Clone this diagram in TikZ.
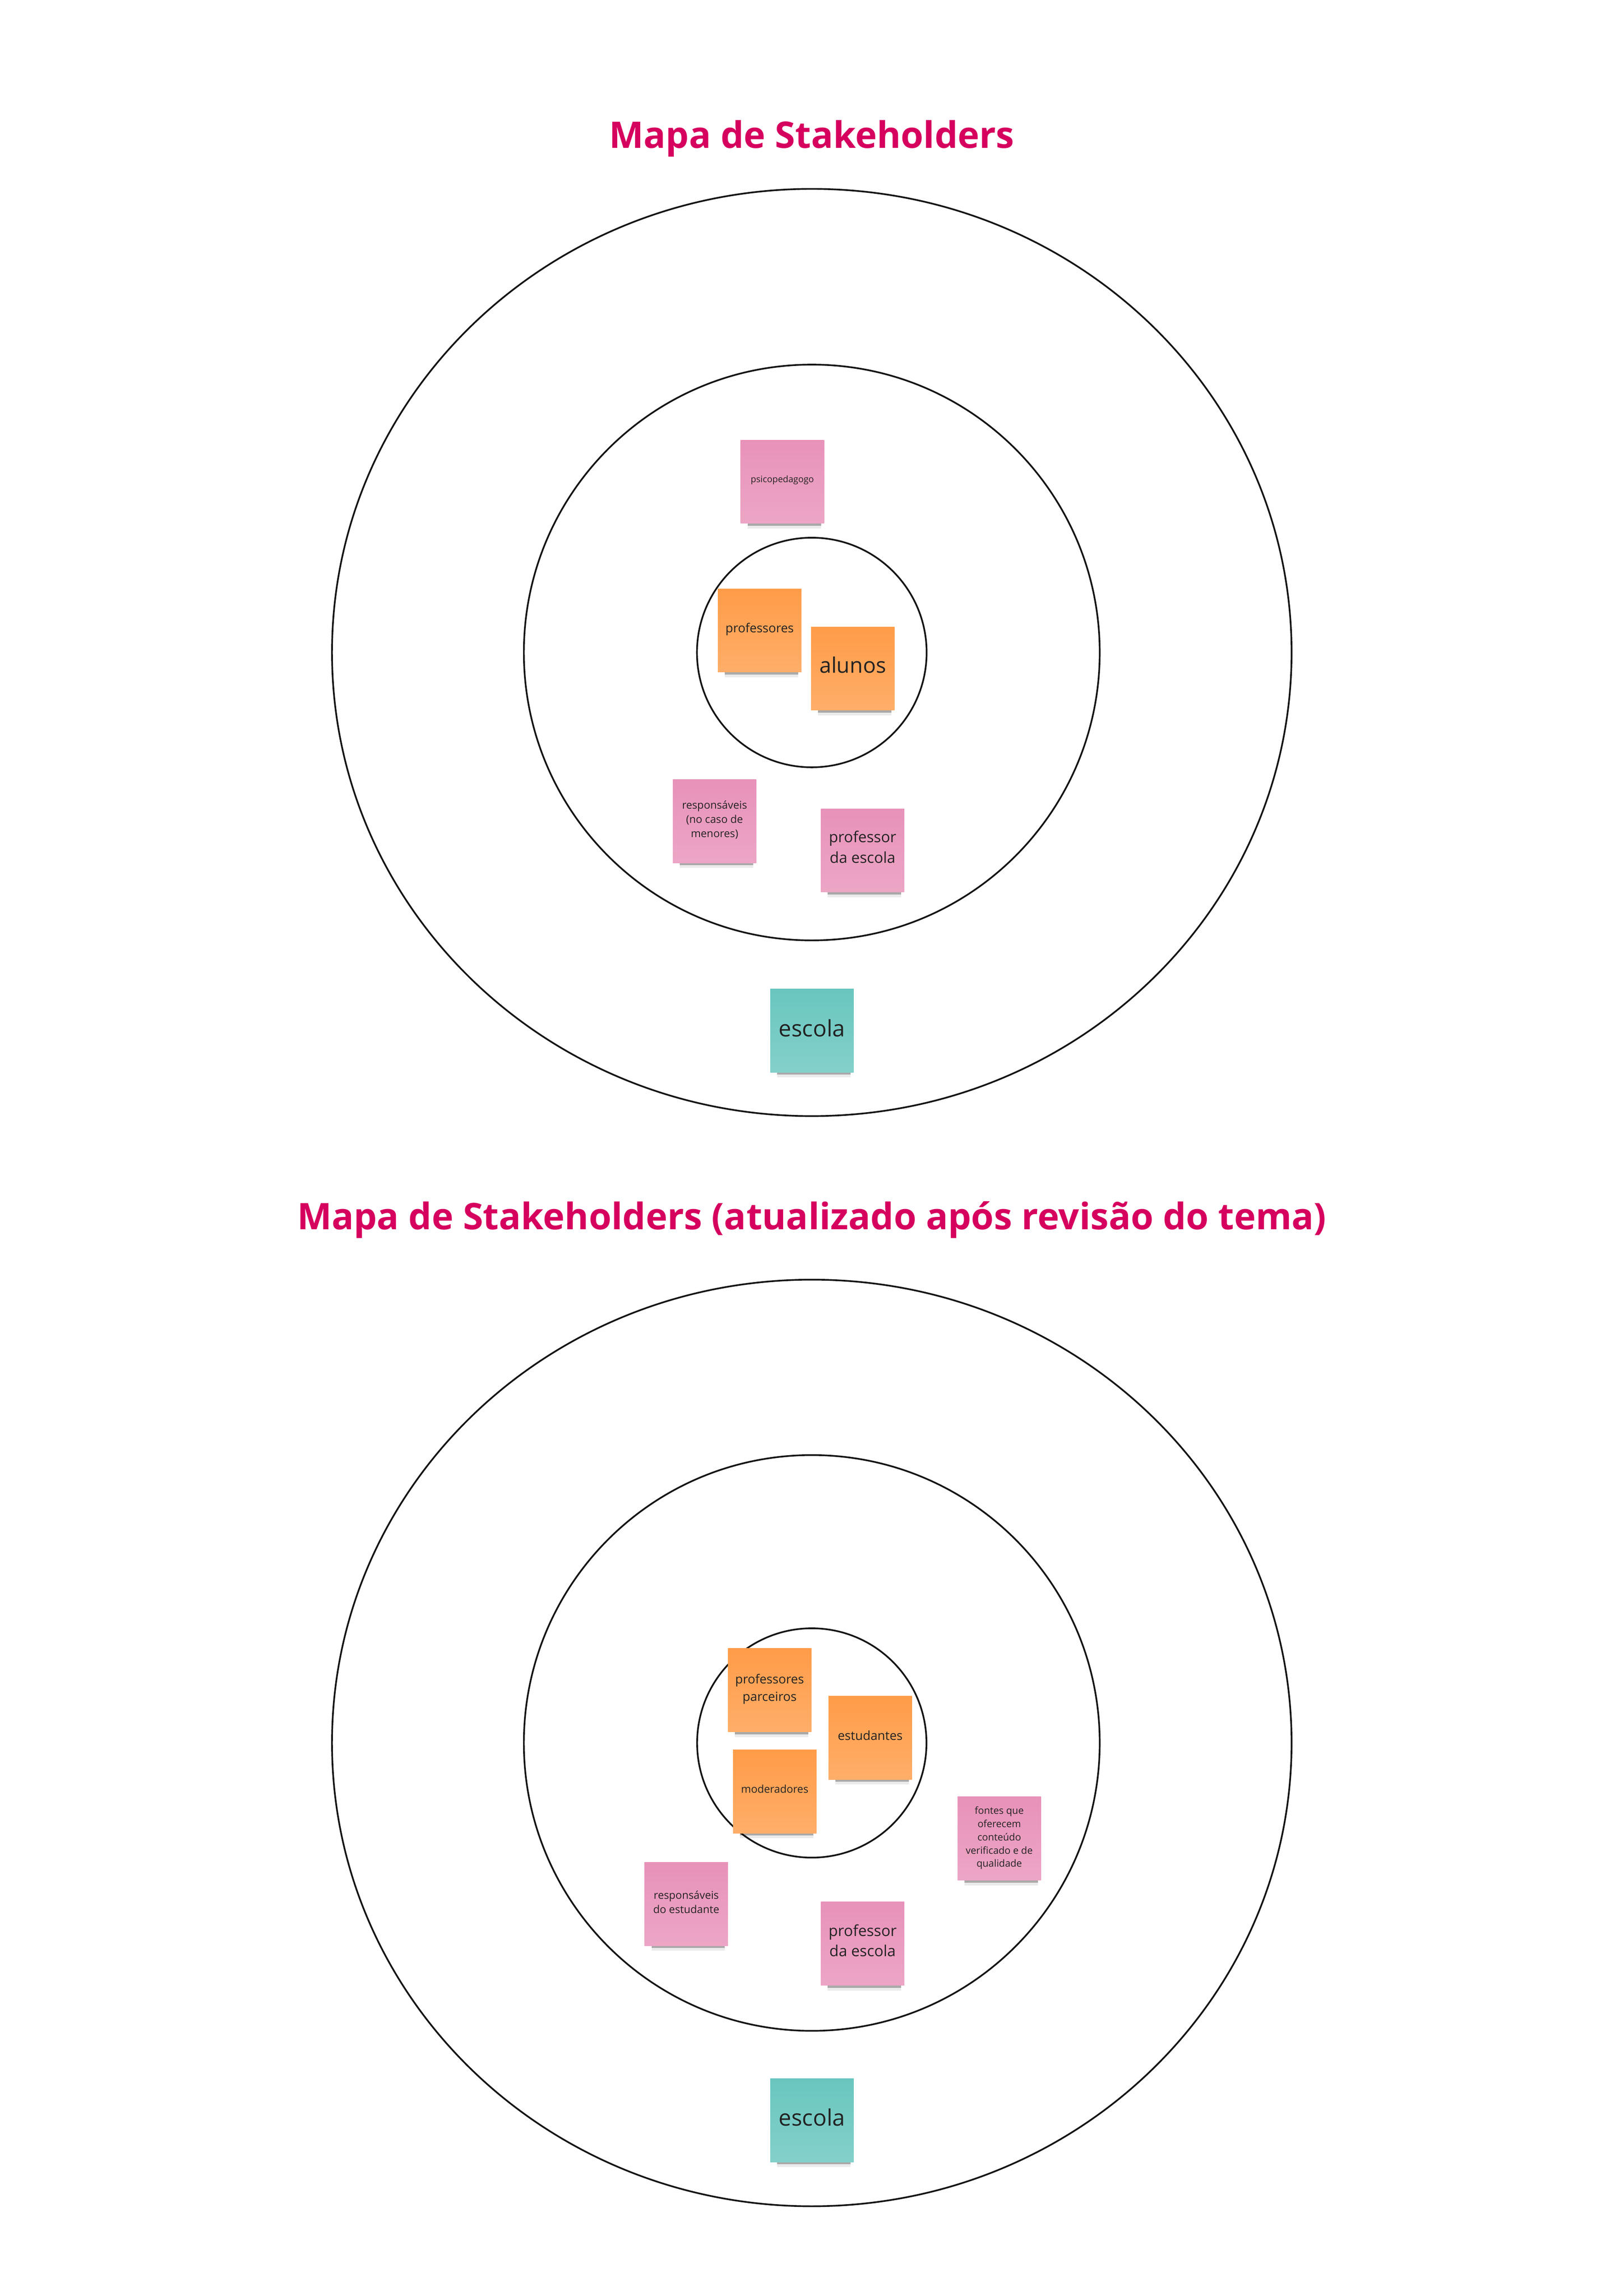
\documentclass[tikz,border=0pt]{standalone}
\usepackage{fontspec}
\setmainfont{Open Sans}
\usetikzlibrary{shadows}

\definecolor{titlered}{HTML}{D6005E}
\definecolor{stkorange}{HTML}{FF9C48}
\definecolor{stkpink}{HTML}{E892B9}
\definecolor{stkteal}{HTML}{69C6BF}
\definecolor{stktext}{HTML}{222222}

\tikzset{
    ring/.style={draw=black!92, line width=1.15pt},
    maptitle/.style={anchor=base, text=titlered, font=\bfseries\fontsize{25}{30}\selectfont},
    sticky/.style={minimum width=57pt, minimum height=57pt, inner sep=1pt,
        align=center, text=stktext,
        drop shadow={shadow xshift=1.5pt, shadow yshift=-7.8pt, shadow scale=0.88,
            opacity=0.08, fill=black},
        drop shadow={shadow xshift=1.5pt, shadow yshift=-5.6pt, shadow scale=0.88,
            opacity=0.28, fill=black}},
    orangenote/.style={sticky, top color=stkorange, bottom color=stkorange!82!white},
    pinknote/.style={sticky, top color=stkpink, bottom color=stkpink!82!white},
    tealnote/.style={sticky, top color=stkteal, bottom color=stkteal!82!white},
}

\begin{document}
\begin{tikzpicture}[x=1pt, y=-1pt]
    \useasboundingbox[fill=white] (0,0) rectangle (1108.6,1568);

    % primeiro mapa
    \node[maptitle] (title-one) at (554.3,101) {Mapa de Stakeholders};
    \draw[ring] (554.3,445.6) ellipse [x radius=327.6, y radius=316.6];
    \draw[ring] (554.3,445.6) circle [radius=196.6];
    \draw[ring] (554.3,445.6) circle [radius=78.4];

    \node[pinknote, text depth=3.5pt, font=\fontsize{6.1}{8}\selectfont] (psico) at (534.2,329) {psicopedagogo};
    \node[orangenote, text depth=3.7pt, font=\fontsize{8.5}{11}\selectfont] (profs) at (518.7,430.6) {professores};
    \node[orangenote, text depth=5pt, font=\fontsize{14.6}{18}\selectfont] (alunos) at (582.3,456.6) {alunos};
    \node[pinknote, text depth=3pt, font=\fontsize{7.3}{9.8}\selectfont] (resp-one) at (487.9,560.9) {responsáveis\\(no caso de\\menores)};
    \node[pinknote, text depth=4.9pt, font=\fontsize{10.3}{14.1}\selectfont] (prof-escola-one) at (589,580.8) {professor\\da escola};
    \node[tealnote, text depth=4pt, font=\fontsize{15.5}{18}\selectfont] (escola-one) at (554.4,703.9) {escola};

    % segundo mapa
    \node[maptitle] (title-two) at (554.3,839.6) {Mapa de Stakeholders (atualizado após revisão do tema)};
    \draw[ring] (554.3,1190.3) ellipse [x radius=327.6, y radius=316.4];
    \draw[ring] (554.3,1190.3) circle [radius=196.6];
    \draw[ring] (554.3,1190.3) circle [radius=78.3];

    \node[orangenote, text depth=3.5pt, font=\fontsize{8.55}{11.76}\selectfont] (parceiros) at (525.5,1154.3) {professores\\parceiros};
    \node[orangenote, text depth=3.2pt, font=\fontsize{8.55}{11}\selectfont] (estudantes) at (594.2,1186.8) {estudantes};
    \node[orangenote, text depth=3.35pt, font=\fontsize{7.3}{9}\selectfont] (moderadores) at (529,1223.4) {moderadores};
    \node[pinknote, text depth=2.4pt, font=\fontsize{6.7}{9.05}\selectfont] (fontes) at (682.3,1255.6) {fontes que\\oferecem\\conteúdo\\verificado e de\\qualidade};
    \node[pinknote, text depth=2.6pt, font=\fontsize{7.3}{9.77}\selectfont] (resp-two) at (468.6,1300.3) {responsáveis\\do estudante};
    \node[pinknote, text depth=4.4pt, font=\fontsize{10.4}{13.8}\selectfont] (prof-escola-two) at (589,1327.4) {professor\\da escola};
    \node[tealnote, text depth=4.1pt, font=\fontsize{15.5}{18}\selectfont] (escola-two) at (554.4,1448) {escola};
\end{tikzpicture}
\end{document}
